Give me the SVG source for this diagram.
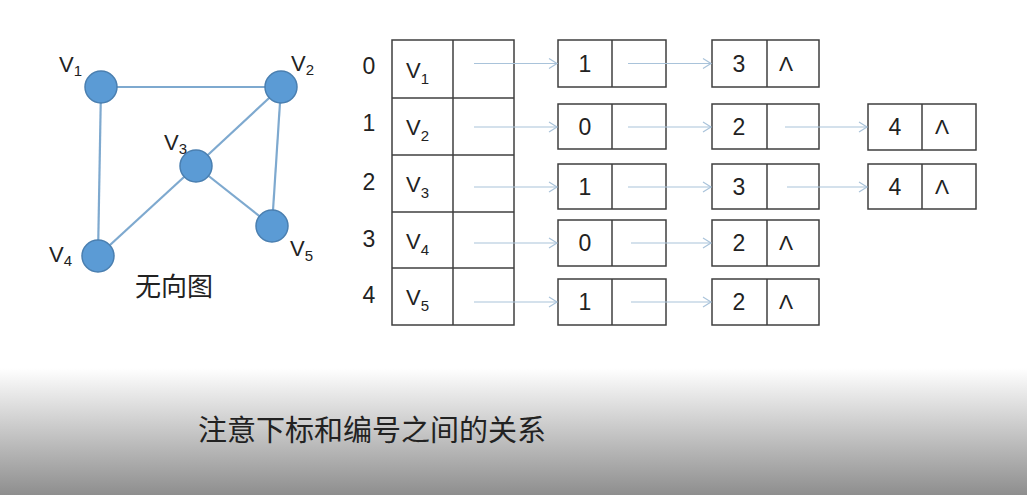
<svg xmlns="http://www.w3.org/2000/svg" width="1027" height="495" viewBox="0 0 1027 495">
<defs>
<linearGradient id="bg" x1="0" y1="0" x2="0" y2="1">
<stop offset="0" stop-color="#ffffff"/>
<stop offset="1" stop-color="#8e8e8e"/>
</linearGradient>
<marker id="arr" markerWidth="12" markerHeight="12" refX="10" refY="6" orient="auto" markerUnits="userSpaceOnUse">
<path d="M2,1 L10,6 L2,11" fill="none" stroke="#a9c3da" stroke-width="1.2"/>
</marker>
<style>
.t{font-family:"Liberation Sans",Arial,sans-serif;fill:#222}
.cjk{font-family:"Noto Sans CJK SC","Liberation Sans",sans-serif;fill:#222}
.box{fill:#fff;stroke:#3f3f3f;stroke-width:1.5}
.ln{stroke:#3f3f3f;stroke-width:1.5}
.edge{stroke:#7ea9cf;stroke-width:2.2;fill:none}
.vert{fill:#5b9bd5;stroke:#4a7fb0;stroke-width:1.5}
.ptr{stroke:#a9c3da;stroke-width:1.2;fill:none}
.dg{font-size:23px;text-anchor:middle}
.ix{font-size:23px;text-anchor:middle}
.lam{font-size:21px;text-anchor:middle}
.vl{font-size:22px}
</style>
</defs>
<rect x="0" y="0" width="1027" height="495" fill="#ffffff"/>
<rect x="0" y="368" width="1027" height="127" fill="url(#bg)"/>

<g id="graph-edges">
<line class="edge" x1="101" y1="87" x2="281" y2="87"/>
<line class="edge" x1="101" y1="87" x2="98" y2="256"/>
<line class="edge" x1="281" y1="87" x2="196" y2="166"/>
<line class="edge" x1="281" y1="87" x2="272" y2="226"/>
<line class="edge" x1="196" y1="166" x2="98" y2="256"/>
<line class="edge" x1="196" y1="166" x2="272" y2="226"/>
</g>
<g id="gV1"><circle class="vert" cx="101" cy="87" r="16"/><text class="t vl" x="59" y="72">V<tspan font-size="15" dy="4">1</tspan></text></g>
<g id="gV2"><circle class="vert" cx="281" cy="87" r="16"/><text class="t vl" x="291" y="71">V<tspan font-size="15" dy="4">2</tspan></text></g>
<g id="gV3"><circle class="vert" cx="196" cy="166" r="16"/><text class="t vl" x="164" y="150">V<tspan font-size="15" dy="4">3</tspan></text></g>
<g id="gV4"><circle class="vert" cx="98" cy="256" r="16"/><text class="t vl" x="49" y="262">V<tspan font-size="15" dy="4">4</tspan></text></g>
<g id="gV5"><circle class="vert" cx="272" cy="226" r="16"/><text class="t vl" x="290" y="256">V<tspan font-size="15" dy="5">5</tspan></text></g>
<text class="cjk" x="174" y="296" font-size="26" text-anchor="middle">无向图</text>

<g id="index-labels">
<text class="t ix" x="369" y="74">0</text>
<text class="t ix" x="369" y="131">1</text>
<text class="t ix" x="369" y="190">2</text>
<text class="t ix" x="369" y="247">3</text>
<text class="t ix" x="369" y="303">4</text>
</g>

<g id="vertex-table">
<rect class="box" x="392" y="40" width="122" height="285"/>
<line class="ln" x1="453" y1="40" x2="453" y2="325"/>
<line class="ln" x1="392" y1="98" x2="514" y2="98"/>
<line class="ln" x1="392" y1="155" x2="514" y2="155"/>
<line class="ln" x1="392" y1="212" x2="514" y2="212"/>
<line class="ln" x1="392" y1="268" x2="514" y2="268"/>
<text class="t vl" x="406" y="78">V<tspan font-size="15" dy="6">1</tspan></text>
<text class="t vl" x="406" y="135">V<tspan font-size="15" dy="6">2</tspan></text>
<text class="t vl" x="406" y="192">V<tspan font-size="15" dy="6">3</tspan></text>
<text class="t vl" x="406" y="249">V<tspan font-size="15" dy="6">4</tspan></text>
<text class="t vl" x="406" y="305">V<tspan font-size="15" dy="6">5</tspan></text>
</g>

<g id="n0a"><rect class="box" x="558" y="40" width="108" height="47"/><line class="ln" x1="612" y1="40" x2="612" y2="87"/><text class="t dg" x="585" y="72">1</text></g>
<g id="n0b"><rect class="box" x="712" y="40" width="107" height="47"/><line class="ln" x1="767" y1="40" x2="767" y2="87"/><text class="t dg" x="739" y="72">3</text><text class="t lam" x="786" y="71">Λ</text></g>

<g id="n1a"><rect class="box" x="558" y="104" width="108" height="45"/><line class="ln" x1="612" y1="104" x2="612" y2="149"/><text class="t dg" x="585" y="135">0</text></g>
<g id="n1b"><rect class="box" x="712" y="104" width="107" height="45"/><line class="ln" x1="767" y1="104" x2="767" y2="149"/><text class="t dg" x="739" y="135">2</text></g>
<g id="n1c"><rect class="box" x="868" y="104" width="108" height="46"/><line class="ln" x1="922" y1="104" x2="922" y2="150"/><text class="t dg" x="895" y="135">4</text><text class="t lam" x="942" y="134">Λ</text></g>

<g id="n2a"><rect class="box" x="558" y="164" width="108" height="45"/><line class="ln" x1="612" y1="164" x2="612" y2="209"/><text class="t dg" x="585" y="195">1</text></g>
<g id="n2b"><rect class="box" x="712" y="164" width="107" height="45"/><line class="ln" x1="767" y1="164" x2="767" y2="209"/><text class="t dg" x="739" y="195">3</text></g>
<g id="n2c"><rect class="box" x="868" y="164" width="108" height="45"/><line class="ln" x1="922" y1="164" x2="922" y2="209"/><text class="t dg" x="895" y="195">4</text><text class="t lam" x="942" y="194">Λ</text></g>

<g id="n3a"><rect class="box" x="558" y="220" width="108" height="46"/><line class="ln" x1="612" y1="220" x2="612" y2="266"/><text class="t dg" x="585" y="251">0</text></g>
<g id="n3b"><rect class="box" x="712" y="220" width="107" height="46"/><line class="ln" x1="767" y1="220" x2="767" y2="266"/><text class="t dg" x="739" y="251">2</text><text class="t lam" x="786" y="250">Λ</text></g>

<g id="n4a"><rect class="box" x="558" y="279" width="108" height="46"/><line class="ln" x1="612" y1="279" x2="612" y2="325"/><text class="t dg" x="585" y="310">1</text></g>
<g id="n4b"><rect class="box" x="712" y="279" width="107" height="46"/><line class="ln" x1="767" y1="279" x2="767" y2="325"/><text class="t dg" x="739" y="310">2</text><text class="t lam" x="786" y="309">Λ</text></g>

<g id="connectors">
<line class="ptr" x1="474" y1="63.5" x2="557" y2="63.5" marker-end="url(#arr)"/>
<line class="ptr" x1="474" y1="127" x2="557" y2="127" marker-end="url(#arr)"/>
<line class="ptr" x1="474" y1="187" x2="557" y2="187" marker-end="url(#arr)"/>
<line class="ptr" x1="474" y1="243" x2="557" y2="243" marker-end="url(#arr)"/>
<line class="ptr" x1="474" y1="302" x2="557" y2="302" marker-end="url(#arr)"/>
<line class="ptr" x1="628" y1="63.5" x2="711" y2="63.5" marker-end="url(#arr)"/>
<line class="ptr" x1="628" y1="127" x2="711" y2="127" marker-end="url(#arr)"/>
<line class="ptr" x1="628" y1="187" x2="711" y2="187" marker-end="url(#arr)"/>
<line class="ptr" x1="631" y1="243" x2="711" y2="243" marker-end="url(#arr)"/>
<line class="ptr" x1="631" y1="302" x2="711" y2="302" marker-end="url(#arr)"/>
<line class="ptr" x1="785" y1="127" x2="867" y2="127" marker-end="url(#arr)"/>
<line class="ptr" x1="787" y1="187" x2="867" y2="187" marker-end="url(#arr)"/>
</g>

<text class="cjk" x="198" y="441" font-size="29" fill="#222">注意下标和编号之间的关系</text>
</svg>
